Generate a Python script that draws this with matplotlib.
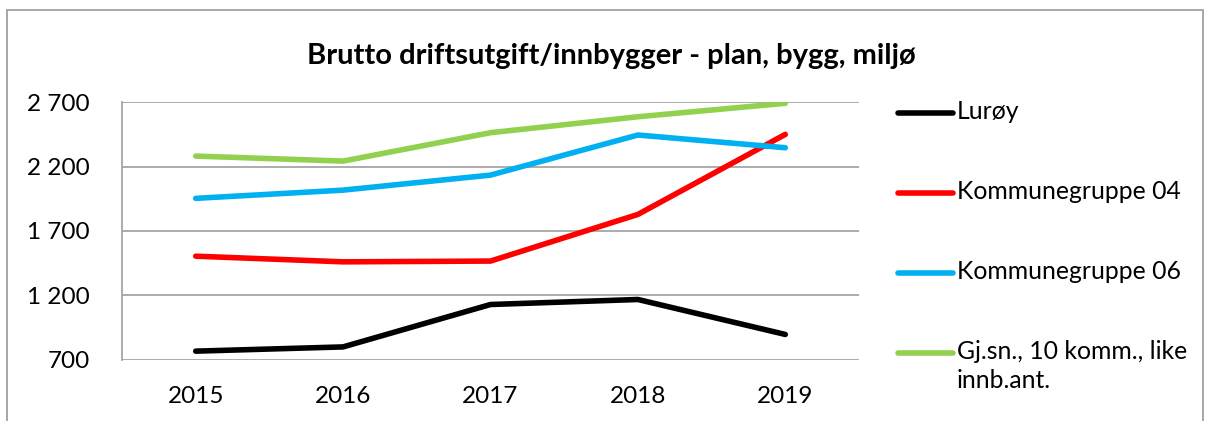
import matplotlib
matplotlib.use("Agg")
import matplotlib.pyplot as plt
from matplotlib.lines import Line2D
from matplotlib.patches import Rectangle
from matplotlib.ticker import FuncFormatter

plt.rcParams['font.family'] = ['Lato', 'DejaVu Sans']

years = ['2015', '2016', '2017', '2018', '2019']
luroy = [765, 798, 1128, 1167, 895]
kgr04 = [1504, 1460, 1466, 1829, 2452]
kgr06 = [1954, 2018, 2135, 2447, 2348]
gjsn = [2283, 2244, 2465, 2589, 2694]

names = ['Lurøy', 'Kommunegruppe 04', 'Kommunegruppe 06',
         'Gj.sn., 10 komm., like\ninnb.ant.']
colors = ['#000000', '#FF0000', '#00B0F0', '#92D050']
series = [luroy, kgr04, kgr06, gjsn]

W, H = 1206, 421
fig = plt.figure(figsize=(W / 100, H / 100), dpi=100)

# outer chart frame
fig.add_artist(Rectangle((7 / W, -0.1), 1196 / W, 1.1 - 10 / H,
                         transform=fig.transFigure, fill=False,
                         edgecolor='#A0A0A0', lw=1.3))

ax = fig.add_axes([122 / W, 1 - 359.5 / H, 737 / W, 257 / H])

x = range(len(years))
for vals, c in zip(series, colors):
    ax.plot(x, vals, color=c, lw=4.0, solid_capstyle='round',
            solid_joinstyle='round', zorder=3)

ax.set_xlim(-0.5, 4.5)
ax.set_ylim(700, 2700)
ax.set_yticks([700, 1200, 1700, 2200, 2700])
ax.yaxis.set_major_formatter(FuncFormatter(lambda v, p: f'{int(v):,}'.replace(',', ' ')))
ax.set_xticks(list(x))
ax.set_xticklabels(years)
ax.grid(axis='y', color='#A6A6A6', lw=1.3)
ax.set_axisbelow(True)
for s in ['top', 'right', 'bottom']:
    ax.spines[s].set_visible(False)
ax.spines['left'].set_color('#A6A6A6')
ax.spines['left'].set_linewidth(1.3)
ax.tick_params(axis='both', length=0, labelsize=17.5)
ax.tick_params(axis='y', pad=23)
ax.tick_params(axis='x', pad=19)

fig.text(611 / W, 1 - 56 / H, 'Brutto driftsutgift/innbygger - plan, bygg, miljø',
         ha='center', va='center', fontsize=21, fontweight='bold')

# legend
leg_y = [113, 193, 273, 353]
for name, c, yy in zip(names, colors, leg_y):
    fig.add_artist(Line2D([898 / W, 953 / W], [1 - yy / H, 1 - yy / H],
                          transform=fig.transFigure, color=c, lw=4.0,
                          solid_capstyle='round'))
    fig.text(957 / W, 1 - (yy - 13) / H, name, ha='left', va='top',
             fontsize=17.8, linespacing=1.3)

fig.savefig('out.png', dpi=100)
